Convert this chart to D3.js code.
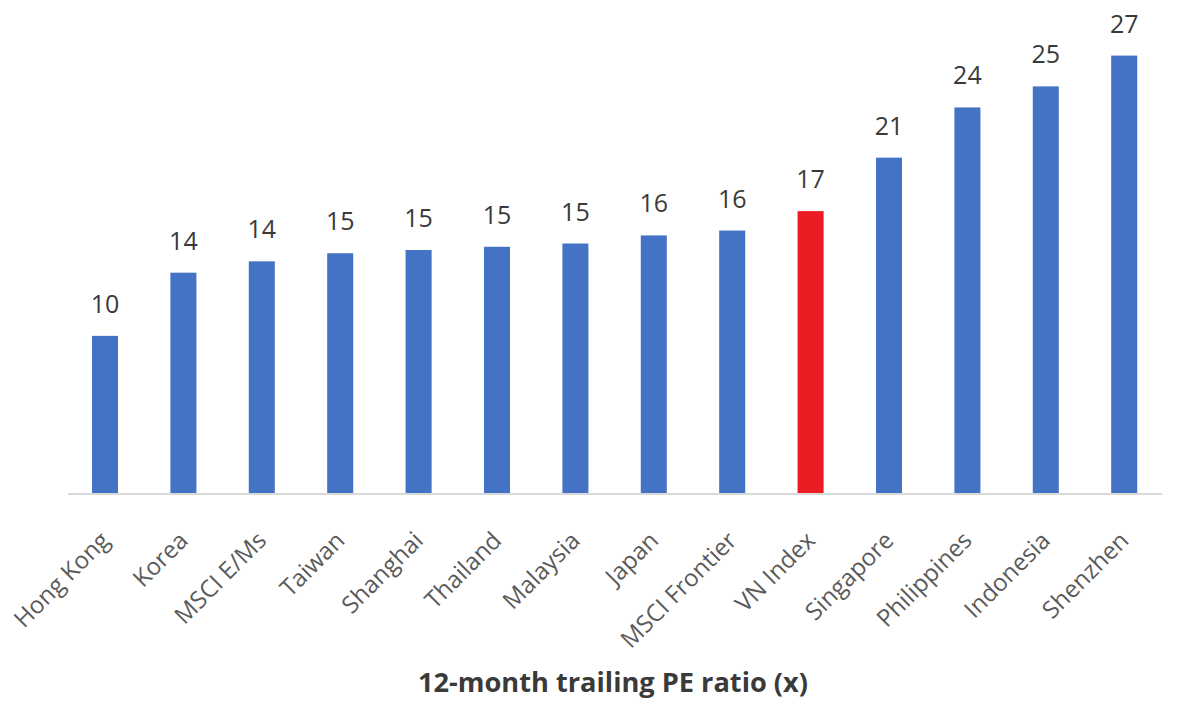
<!DOCTYPE html>
<html>
<head>
<meta charset="utf-8">
<script src="https://cdn.jsdelivr.net/npm/d3@7"></script>
<style>
  html, body { margin: 0; padding: 0; background: #ffffff; }
  svg { display: block; }
</style>
</head>
<body>
<script>
const categories = ["Hong Kong", "Korea", "MSCI E/Ms", "Taiwan", "Shanghai", "Thailand", "Malaysia", "Japan", "MSCI Frontier", "VN Index", "Singapore", "Philippines", "Indonesia", "Shenzhen"];
const peValues = [9.7, 13.6, 14.3, 14.8, 15.0, 15.2, 15.4, 15.9, 16.2, 17.4, 20.7, 23.8, 25.1, 27.0];
const highlight = ["VN Index"];
const axisTitle = "12-month trailing PE ratio (x)";

const W = 1200, H = 717;
const svg = d3.select("body").append("svg").attr("width", W).attr("height", H);

const x = d3.scaleBand().domain(categories).range([65.8, 1163.4]).paddingInner(0.668).paddingOuter(0.334);
const y = d3.scaleLinear().domain([0, 30]).range([493, 7]);

const data = categories.map((c, i) => ({ c, v: peValues[i] }));

// baseline
svg.append("line")
  .attr("x1", x.range()[0] + 2).attr("x2", x.range()[1] - 1)
  .attr("y1", y(0) + 1).attr("y2", y(0) + 1)
  .attr("stroke", "#d9d9d9").attr("stroke-width", 2);

// bars
svg.selectAll("rect.bar").data(data).enter().append("rect")
  .attr("class", "bar")
  .attr("x", d => x(d.c))
  .attr("width", x.bandwidth())
  .attr("y", d => y(d.v))
  .attr("height", d => y(0) - y(d.v))
  .attr("fill", d => highlight.includes(d.c) ? "#ec1c24" : "#4472c4");

// value labels
const fmt = d3.format(".0f");
svg.selectAll("text.val").data(data).enter().append("text")
  .attr("class", "val")
  .attr("x", d => x(d.c) + x.bandwidth() / 2)
  .attr("y", d => y(d.v) - 23)
  .attr("text-anchor", "middle")
  .attr("font-family", "'Open Sans', sans-serif")
  .attr("font-size", 25)
  .attr("fill", "#3a3a3a")
  .text(d => fmt(d.v));

// category labels (rotated)
svg.selectAll("text.cat").data(data).enter().append("text")
  .attr("class", "cat")
  .attr("transform", d => `translate(${x(d.c) + x.bandwidth() / 2 + 6},${542}) rotate(-45)`)
  .attr("text-anchor", "end")
  .attr("font-family", "'Open Sans', sans-serif")
  .attr("font-size", 24)
  .attr("fill", "#5a5a5a")
  .text(d => d.c);

// axis title
svg.append("text")
  .attr("x", 613).attr("y", 692)
  .attr("text-anchor", "middle")
  .attr("font-family", "'Open Sans', sans-serif")
  .attr("font-weight", "bold")
  .attr("font-size", 26)
  .attr("textLength", 390)
  .attr("lengthAdjust", "spacingAndGlyphs")
  .attr("fill", "#3a3a3a")
  .text(axisTitle);
</script>
</body>
</html>
